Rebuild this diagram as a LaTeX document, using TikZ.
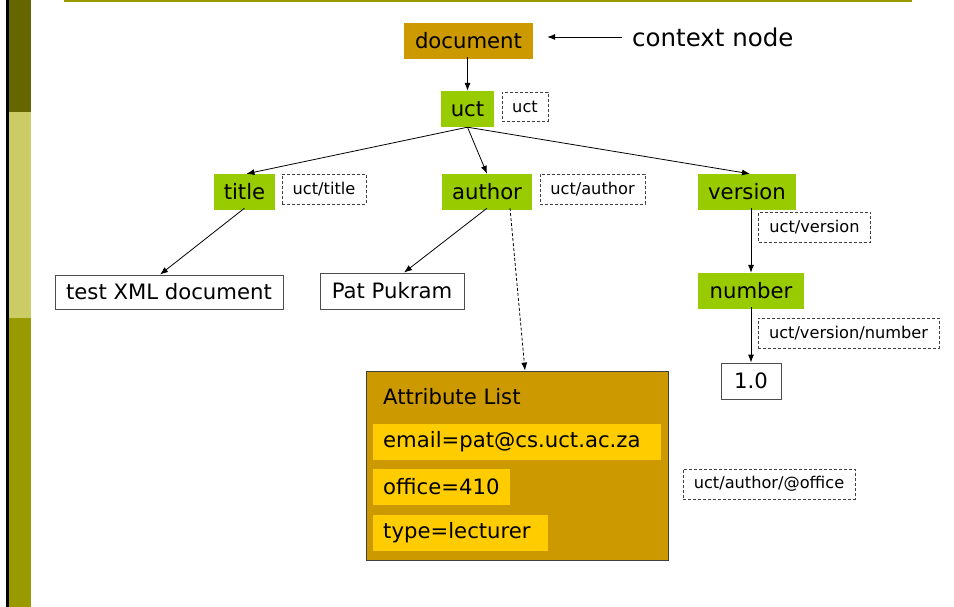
\documentclass[tikz,border=0pt]{standalone}
\usepackage{fontspec}
\setmainfont{DejaVu Sans}
\usetikzlibrary{arrows.meta,calc}
\definecolor{gold}{HTML}{CC9900}
\definecolor{lime}{HTML}{99CC00}
\definecolor{amber}{HTML}{FFCC00}
\definecolor{oliveA}{HTML}{666600}
\definecolor{oliveB}{HTML}{CCCC66}
\definecolor{oliveC}{HTML}{999900}
\tikzset{
  box/.style={inner sep=0pt, font=\fontsize{21.2}{25}\selectfont, text=black},
  gbox/.style={box, fill=lime},
  dbox/.style={box, fill=gold},
  wbox/.style={box, draw=black!70, line width=0.8pt, fill=white},
  lbl/.style={inner sep=0pt, draw=black!75, dashed, dash pattern=on 3pt off 2pt, line width=0.8pt, font=\fontsize{16.2}{19}\selectfont},
  row/.style={box, fill=amber, anchor=west, inner xsep=10pt, inner ysep=0pt, minimum height=36pt, align=left},
  arr/.style={-{Latex[length=8pt,width=6pt]}, line width=0.8pt},
}
\begin{document}
\begin{tikzpicture}[x=1pt,y=-1pt]
\useasboundingbox (0,0) rectangle (954,607);
\fill[white] (0,0) rectangle (954,607);
% left bar
\fill[black] (6,0) rectangle (9,607);
\fill[oliveA] (9,0) rectangle (31,112);
\fill[oliveB] (9,112) rectangle (31,318);
\fill[oliveC] (9,318) rectangle (31,607);
% top rule
\fill[oliveC] (64,0) rectangle (912,2.5);

% nodes
\node[dbox, minimum width=129pt, minimum height=36pt] (doc) at (468.5,41) {document};
\node[box, anchor=west, font=\fontsize{24.5}{28}\selectfont] (ctx) at (632,37) {context node};
\node[gbox, minimum width=53pt, minimum height=36pt] (uct) at (467.5,109) {uct};
\node[lbl, minimum width=46pt, minimum height=29pt] (luct) at (525,106.5) {uct};

\node[gbox, minimum width=61pt, minimum height=36pt] (title) at (244.5,192) {title};
\node[lbl, minimum width=84pt, minimum height=30pt] (ltitle) at (324,189) {uct/title};
\node[gbox, minimum width=90pt, minimum height=36pt] (author) at (487,192) {author};
\node[lbl, minimum width=105pt, minimum height=30pt] (lauthor) at (592.5,189) {uct/author};
\node[gbox, minimum width=98pt, minimum height=36pt] (version) at (747,192) {version};
\node[lbl, minimum width=112pt, minimum height=30pt] (lversion) at (814.5,227) {uct/version};
\node[gbox, minimum width=106pt, minimum height=36pt] (number) at (751,291) {number};
\node[lbl, minimum width=181pt, minimum height=30pt] (lnumber) at (848.5,333) {uct/version/number};
\node[wbox, minimum width=60pt, minimum height=36pt] (one) at (751,381) {1.0};

\node[wbox, minimum width=228pt, minimum height=34pt] (test) at (169,292) {test XML document};
\node[wbox, minimum width=144pt, minimum height=36pt] (pat) at (392,291) {Pat Pukram};

\node[dbox, draw=black!75, line width=0.8pt, minimum width=302pt, minimum height=189pt] (attr) at (517.5,465.5) {};
\node[box, anchor=west] (atitle) at (383,397) {Attribute List};
\node[row, text width=268pt] (email) at (373,442) {email=pat@cs.uct.ac.za};
\node[row, text width=117pt] (office) at (373,487) {office=410};
\node[row, text width=155pt] (type) at (373,533) {type=lecturer};
\node[lbl, minimum width=172pt, minimum height=30pt] (loffice) at (769,484) {uct/author/@office};

% connectors
\coordinate (cs) at ([xshift=-10pt]ctx.west);
\draw[arr] (cs) -- ([xshift=14pt]doc.east |- cs);
\draw[arr] ([yshift=2pt]doc.south -| uct.north) -- (uct.north);
\draw[arr] (uct.south) -- ([xshift=2pt]title.north);
\draw[arr] (uct.south) -- (author.north);
\draw[arr] (uct.south) -- ([xshift=3pt]version.north);
\draw[arr] ([yshift=2pt]title.south) -- ([xshift=-9pt]test.north);
\draw[arr] ([yshift=2pt]author.south) -- ([xshift=12pt]pat.north);
\draw[arr, dashed, dash pattern=on 3pt off 2pt] ([xshift=23pt,yshift=2pt]author.south) -- ([xshift=7.5pt]attr.north);
\draw[arr] ([xshift=4pt,yshift=2pt]version.south) -- (number.north);
\draw[arr] ([yshift=2pt]number.south) -- (one.north);
\end{tikzpicture}
\end{document}
